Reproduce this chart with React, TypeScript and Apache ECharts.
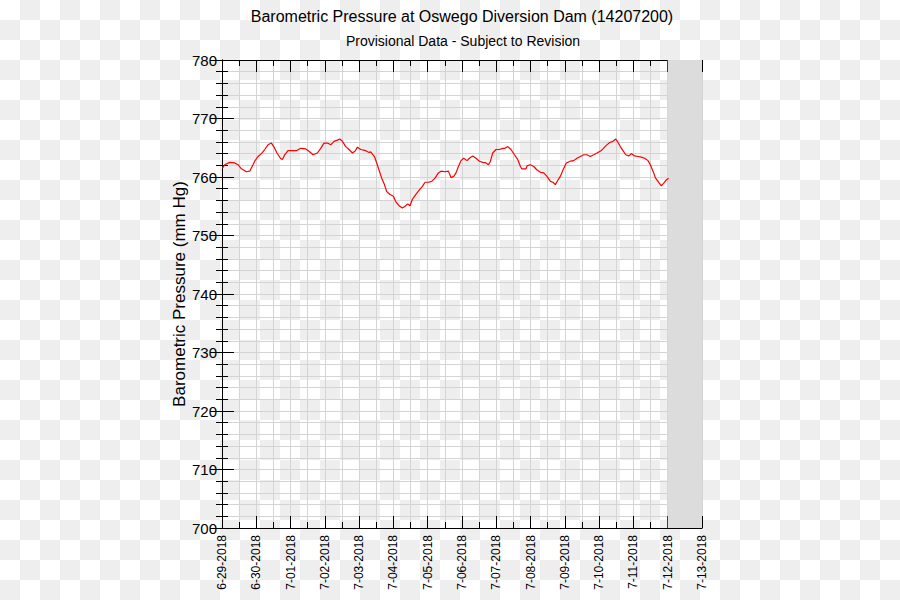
import React, { useEffect, useRef } from "react";
import * as echarts from "echarts";

const titleText = "Barometric Pressure at Oswego Diversion Dam (14207200)";
const subtitleText = "Provisional Data - Subject to Revision";
const yAxisName = "Barometric Pressure (mm Hg)";

const dateLabels = [
  "6-29-2018", "6-30-2018", "7-01-2018", "7-02-2018", "7-03-2018",
  "7-04-2018", "7-05-2018", "7-06-2018", "7-07-2018", "7-08-2018",
  "7-09-2018", "7-10-2018", "7-11-2018", "7-12-2018", "7-13-2018",
];

// hours since 6-29-2018 00:00
const hoursSinceStart = [
  0.3, 1.9, 5.4, 8.9, 11.2, 13.6, 17.1, 19.4, 21.7, 22.9,
  25.2, 27.6, 29.9, 32.2, 34.6, 36.2, 38.5, 40.9, 42.3, 43.9,
  46.2, 48.6, 52.1, 55.1, 58.6, 60.9, 63.7, 66.8, 69.1, 71.4,
  73.8, 76.1, 78.4, 80.8, 82.4, 84.3, 86.6, 88.9, 91.3, 93.1,
  94.8, 97.1, 100.6, 102.9, 104.1, 106.7, 108.3, 109.9, 111.8, 113.7,
  115.3, 117.6, 120.0, 121.6, 123.9, 126.3, 128.1, 130.0, 131.6, 133.3,
  135.6, 137.9, 140.3, 142.1, 144.5, 146.8, 149.1, 151.5, 153.3, 156.1,
  158.5, 160.3, 162.2, 163.8, 165.5, 167.3, 169.2, 171.5, 173.2, 175.5,
  177.8, 180.2, 182.5, 184.8, 186.5, 187.9, 189.5, 191.8, 194.2, 196.5,
  198.1, 200.0, 202.3, 204.7, 207.0, 208.9, 209.8, 212.8, 213.5, 215.8,
  218.2, 220.5, 222.9, 225.2, 227.5, 229.9, 231.7, 233.3, 235.0, 236.8,
  238.7, 241.0, 243.8, 246.2, 248.5, 250.8, 253.2, 255.5, 257.8, 260.2,
  262.5, 265.3, 266.7, 269.0, 271.4, 273.7, 275.6, 277.2, 278.8, 280.7,
  282.6, 284.9, 286.5, 288.8, 291.2, 293.5, 295.9, 298.2, 299.8, 301.7,
  303.5, 305.2, 307.5, 309.1, 311.0, 312.6,
];

const pressureMmHg = [
  761.5, 762.1, 762.5, 762.4, 762.1, 761.4, 760.9, 761.0, 762.1, 762.7,
  763.5, 764.0, 764.7, 765.5, 765.8, 765.2, 764.1, 763.2, 763.0, 763.8,
  764.5, 764.5, 764.5, 764.9, 764.8, 764.4, 763.8, 764.1, 764.9, 765.8,
  765.8, 765.5, 766.1, 766.3, 766.5, 766.1, 765.2, 764.7, 764.1, 764.4,
  765.1, 764.7, 764.5, 764.2, 764.3, 763.5, 762.4, 761.2, 759.8, 758.7,
  757.5, 757.0, 756.7, 755.8, 755.1, 754.7, 755.0, 755.4, 755.1, 756.2,
  757.0, 757.7, 758.4, 759.1, 759.1, 759.25, 759.8, 760.7, 761.0, 760.9,
  761.0, 759.9, 760.1, 760.7, 761.8, 762.8, 763.2, 762.8, 763.2, 763.6,
  763.2, 762.7, 762.5, 762.4, 762.1, 762.7, 764.1, 764.7, 764.7, 764.9,
  764.9, 765.2, 764.7, 763.8, 763.0, 761.8, 761.4, 761.4, 761.9, 762.1,
  761.8, 761.2, 760.8, 760.7, 760.1, 759.25, 759.1, 758.7, 759.4, 760.1,
  761.2, 762.4, 762.7, 762.8, 763.2, 763.5, 763.8, 763.8, 763.5, 763.8,
  764.1, 764.5, 764.8, 765.4, 765.9, 766.1, 766.5, 765.9, 765.2, 764.5,
  763.8, 763.6, 764.0, 763.6, 763.5, 763.4, 763.2, 762.8, 762.1, 761.0,
  759.8, 759.25, 758.5, 758.9, 759.5, 759.8,
];

const yMin = 700;
const yMax = 780;
const yInterval = 10;
const xMaxHours = 336;
const xIntervalHours = 24;
const shadedStartHours = 312;

const FONT = "'Liberation Sans', Arial, Helvetica, sans-serif";
const GRID_COLOR = "#d4d4d4";

export default function App() {
  const ref = useRef<HTMLDivElement>(null);

  useEffect(() => {
    if (!ref.current) return;
    const chart = echarts.init(ref.current, null, { renderer: "svg" });
    const data = hoursSinceStart.map((h, i) => [h, pressureMmHg[i]]);

    const axisLine = { show: true, lineStyle: { color: "#000", width: 1 } };
    const axisTick = { show: true, inside: true, length: 12, lineStyle: { color: "#000", width: 1 } };
    const minorTick = { show: true, splitNumber: 2, length: 6, lineStyle: { color: "#000", width: 1 } };
    const minorTickY = { show: true, splitNumber: 5, length: 6, lineStyle: { color: "#000", width: 1 } };

    chart.setOption({
      animation: false,
      backgroundColor: "transparent",
      textStyle: { fontFamily: FONT },
      grid: { left: 222, right: 198, top: 60, bottom: 72, containLabel: false },
      graphic: [
        {
          type: "text",
          x: 462,
          y: 16,
          style: {
            text: titleText,
            fill: "#000",
            font: `16px ${FONT}`,
            textAlign: "center",
            textVerticalAlign: "middle",
            align: "center",
            verticalAlign: "middle",
          },
        },
        {
          type: "text",
          x: 463,
          y: 41,
          style: {
            text: subtitleText,
            fill: "#000",
            font: `14px ${FONT}`,
            textAlign: "center",
            textVerticalAlign: "middle",
            align: "center",
            verticalAlign: "middle",
          },
        },
        {
          type: "text",
          x: 179,
          y: 294,
          rotation: Math.PI / 2,
          style: {
            text: yAxisName,
            fill: "#000",
            font: `17px ${FONT}`,
            textAlign: "center",
            textVerticalAlign: "middle",
            align: "center",
            verticalAlign: "middle",
          },
        },
      ],
      xAxis: [
        {
          type: "value",
          position: "bottom",
          min: 0,
          max: xMaxHours,
          interval: xIntervalHours,
          axisLine,
          axisTick,
          minorTick,
          splitLine: { show: true, lineStyle: { color: GRID_COLOR, width: 1 } },
          minorSplitLine: { show: true, lineStyle: { color: GRID_COLOR, width: 1 } },
          axisLabel: {
            show: true,
            rotate: 90,
            margin: 7,
            fontSize: 12,
            color: "#000",
            fontFamily: FONT,
            formatter: (v: number) => dateLabels[Math.round(v / xIntervalHours)] ?? "",
          },
        },
        {
          type: "value",
          position: "top",
          min: 0,
          max: xMaxHours,
          interval: xIntervalHours,
          axisLine,
          axisTick,
          minorTick,
          splitLine: { show: false },
          axisLabel: { show: false },
        },
      ],
      yAxis: [
        {
          type: "value",
          position: "left",
          min: yMin,
          max: yMax,
          interval: yInterval,
          axisLine,
          axisTick,
          minorTick: minorTickY,
          splitLine: { show: true, lineStyle: { color: GRID_COLOR, width: 1 } },
          minorSplitLine: { show: true, lineStyle: { color: GRID_COLOR, width: 1 } },
          axisLabel: { show: true, margin: 5, fontSize: 15, color: "#000", fontFamily: FONT },
        },
        {
          type: "value",
          position: "right",
          min: yMin,
          max: yMax,
          interval: yInterval,
          axisLine,
          axisTick,
          minorTick: minorTickY,
          splitLine: { show: false },
          axisLabel: { show: false },
        },
      ],
      series: [
        {
          type: "line",
          xAxisIndex: 0,
          yAxisIndex: 0,
          data,
          showSymbol: false,
          symbol: "none",
          lineStyle: { color: "#ff0000", width: 1.2 },
          z: 3,
          markArea: {
            silent: true,
            itemStyle: { color: "#dcdcdc", opacity: 1 },
            data: [[{ xAxis: shadedStartHours, yAxis: yMin }, { xAxis: xMaxHours, yAxis: yMax }]],
          },
        },
      ],
    });

    return () => chart.dispose();
  }, []);

  return (
    <div
      style={{
        position: "fixed",
        left: 0,
        top: 0,
        width: 900,
        height: 600,
        backgroundColor: "#ffffff",
        backgroundImage:
          "conic-gradient(#eeeeee 0deg 90deg, #ffffff 90deg 180deg, #eeeeee 180deg 270deg, #ffffff 270deg 360deg)",
        backgroundSize: "40px 40px",
      }}
    >
      <div ref={ref} style={{ width: 900, height: 600 }} />
    </div>
  );
}
